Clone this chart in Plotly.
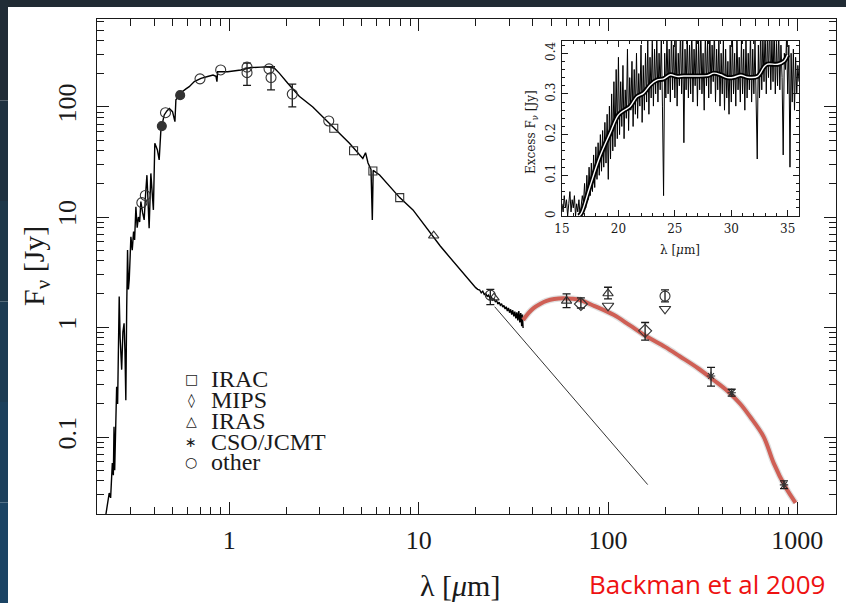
import numpy as np
import plotly.graph_objects as go

W, H = 846, 603

# ---------------- data ----------------
# observed / model photospheric spectrum (wavelength in micron, flux in Jy)
spec_lam = [0.223, 0.228, 0.232, 0.236, 0.241, 0.244, 0.246, 0.248, 0.251, 0.254,
            0.257, 0.262, 0.265, 0.270, 0.274, 0.278, 0.281, 0.284, 0.287, 0.290,
            0.293, 0.296, 0.299, 0.302, 0.307, 0.312, 0.316, 0.321, 0.326, 0.331,
            0.336, 0.341, 0.348, 0.355, 0.361, 0.367, 0.372, 0.377, 0.385, 0.391,
            0.397, 0.404, 0.410, 0.417, 0.421, 0.426, 0.435, 0.444, 0.453, 0.468,
            0.482, 0.501, 0.510, 0.516, 0.522, 0.540, 0.566, 0.590, 0.614, 0.653,
            0.708, 0.768, 0.820, 0.850, 0.860, 0.867, 0.980, 1.15, 1.30, 1.47,
            1.60, 1.73, 1.84, 2.03, 2.20, 2.34, 2.76, 3.12, 3.82, 4.31,
            5.07, 5.24, 5.40, 5.60, 5.69, 5.75, 6.22, 7.00, 7.94, 9.33,
            12.4, 13.0, 14.0, 15.0, 16.0, 17.0, 18.0, 19.0, 20.0, 20.5,
            21.0, 21.4, 21.8, 22.2, 22.6, 23.0, 23.4, 23.8, 24.2, 24.6,
            25.0, 25.4, 25.8, 26.2, 26.6, 27.0, 27.4, 27.8, 28.2, 28.6,
            29.0, 29.4, 29.8, 30.2, 30.6, 31.0, 31.4, 31.8, 32.2, 32.6,
            33.0, 33.4, 33.8, 34.2, 34.6, 35.0, 35.3, 35.6]
spec_F = [0.020, 0.025, 0.031, 0.028, 0.058, 0.045, 0.124, 0.050, 0.110, 0.287,
          0.200, 1.89, 0.80, 0.41, 0.90, 1.08, 0.60, 0.216, 1.50, 5.0,
          2.2, 2.7, 4.2, 6.6, 5.0, 7.36, 6.2, 12.4, 8.0, 10.0,
          9.0, 13.8, 11.0, 9.4, 16.0, 24.0, 14.0, 7.9, 24.9, 18.0,
          11.6, 46.8, 44.0, 40.6, 37.0, 33.0, 61.8, 72.0, 84.6, 92.0,
          97.0, 90.6, 80.0, 73.5, 116, 125, 138, 146, 153, 170,
          182, 189, 195, 190, 170, 209, 209, 217, 228, 230,
          232, 225, 202, 165, 140, 125, 100, 81.6, 57.7, 46.8,
          34.1, 38.4, 31.0, 27.0, 9.4, 26.5, 24.1, 19.0, 15.0, 11.6,
          5.96, 5.45, 4.68, 4.07, 3.57, 3.11, 2.80, 2.50, 2.28, 2.20,
          2.17, 2.05, 2.12, 1.98, 2.02, 1.90, 1.95, 1.83, 1.88, 1.76,
          1.80, 1.70, 1.74, 1.62, 1.68, 1.58, 1.63, 1.52, 1.57, 1.46,
          1.53, 1.40, 1.49, 1.35, 1.45, 1.30, 1.42, 1.25, 1.38, 1.20,
          1.36, 1.15, 1.40, 1.10, 1.34, 1.02, 1.30, 0.98]

# Rayleigh-Jeans photosphere extension
rj_lam = [25.2, 162.0]
rj_F = [1.53, 0.037]

# dust disk model (red curve)
model_lam = [35.6, 38, 40.3, 44, 47.4, 52, 58, 64, 71, 85, 107, 130, 160, 200,
             240, 300, 361, 430, 500, 560, 663, 750, 864, 978]
model_F = [1.16, 1.34, 1.48, 1.63, 1.73, 1.80, 1.83, 1.81, 1.76, 1.55, 1.29, 1.04,
           0.82, 0.66, 0.54, 0.42, 0.33, 0.26, 0.20, 0.155, 0.101, 0.058, 0.0353, 0.0253]

# photometry
other_lam = [0.345, 0.36, 0.46, 0.70, 0.90, 1.24, 1.24, 1.62, 1.66, 2.15, 3.35, 23.9, 200]
other_F = [13.5, 15.7, 88.7, 180, 217, 230, 205, 222, 185, 131, 74.6, 1.95, 1.91]
filled_lam = [0.44, 0.55]
filled_F = [67, 128]
irac_lam = [3.56, 4.53, 5.73, 7.94]
irac_F = [64, 40, 26.2, 15]
mips_lam = [71.9, 157]
mips_F = [1.62, 0.925]
iras_lam = [12.0, 25.0, 60.4, 100]
iras_F = [6.76, 1.85, 1.73, 2.02]
cso_lam = [350, 450, 850]
cso_F = [0.359, 0.253, 0.0368]
ulim_lam = [100, 200]
ulim_F = [1.56, 1.46]

# error bars (value, upper end, lower end)
eb_lam = [1.24, 1.66, 2.15, 23.9, 60.4, 71.9, 100, 157, 200, 350, 450, 850]
eb_F = [205, 185, 131, 1.95, 1.73, 1.62, 2.02, 0.925, 1.91, 0.359, 0.253, 0.0368]
eb_hi = [250, 232, 161, 2.2, 2.0, 1.84, 2.3, 1.1, 2.18, 0.43, 0.272, 0.040]
eb_lo = [157, 143, 100, 1.6, 1.5, 1.49, 1.8, 0.76, 1.69, 0.29, 0.236, 0.034]

# inset: excess spectrum 15-36 micron (0.1 micron sampling)
inset_lam = np.round(np.arange(150, 361) / 10.0, 1)
inset_F = [0.03, 0.01, 0.05, 0.02, 0.04, 0.00, 0.03, 0.06, 0.01, 0.04,
           0.02, 0.05, 0.00, 0.03, 0.01, 0.04, 0.00, 0.02, 0.05, 0.03,
           0.08, 0.02, 0.10, 0.04, 0.12, 0.05, 0.13, 0.06, 0.15, 0.07,
           0.17, 0.09, 0.18, 0.10, 0.20, 0.11, 0.21, 0.12, 0.23, 0.13,
           0.25, 0.09, 0.27, 0.14, 0.30, 0.16, 0.33, 0.17, 0.36, 0.19,
           0.39, 0.20, 0.33, 0.22, 0.37, 0.19, 0.31, 0.24, 0.41, 0.21,
           0.34, 0.26, 0.38, 0.22, 0.36, 0.25, 0.40, 0.24, 0.35, 0.27,
           0.42, 0.23, 0.37, 0.26, 0.40, 0.28, 0.43, 0.25, 0.39, 0.29,
           0.43, 0.27, 0.41, 0.30, 0.44, 0.28, 0.40, 0.31, 0.44, 0.27,
           0.05, 0.40, 0.29, 0.45, 0.30, 0.41, 0.28, 0.46, 0.31, 0.42,
           0.29, 0.44, 0.27, 0.40, 0.32, 0.46, 0.30, 0.43, 0.18, 0.41,
           0.31, 0.45, 0.29, 0.42, 0.30, 0.47, 0.28, 0.41, 0.32, 0.44,
           0.27, 0.43, 0.31, 0.46, 0.30, 0.40, 0.26, 0.45, 0.32, 0.43,
           0.29, 0.47, 0.30, 0.42, 0.33, 0.46, 0.28, 0.41, 0.31, 0.44,
           0.27, 0.40, 0.30, 0.43, 0.26, 0.41, 0.29, 0.38, 0.25, 0.42,
           0.28, 0.44, 0.30, 0.40, 0.27, 0.45, 0.31, 0.39, 0.28, 0.43,
           0.30, 0.41, 0.26, 0.44, 0.29, 0.40, 0.31, 0.45, 0.28, 0.41,
           0.30, 0.43, 0.27, 0.14, 0.42, 0.29, 0.46, 0.31, 0.44, 0.33,
           0.47, 0.30, 0.45, 0.34, 0.48, 0.31, 0.44, 0.33, 0.47, 0.30,
           0.43, 0.32, 0.46, 0.31, 0.42, 0.34, 0.15, 0.40, 0.36, 0.44,
           0.30, 0.42, 0.12, 0.40, 0.28, 0.41, 0.26, 0.39, 0.30, 0.37,
           0.33]
smooth_lam = [16.5, 16.72, 17.47, 18.36, 19.25, 19.99, 20.59, 21.03, 21.63, 22.22,
              22.82, 23.41, 24.00, 24.60, 25.19, 25.79, 26.68, 27.87, 28.46, 29.06,
              29.65, 30.25, 30.84, 31.43, 32.33, 32.92, 33.22, 34.11, 34.70, 35.0]
smooth_F = [0.0, 0.007, 0.072, 0.146, 0.203, 0.248, 0.261, 0.269, 0.293, 0.302,
            0.322, 0.334, 0.337, 0.347, 0.343, 0.344, 0.344, 0.345, 0.351, 0.347,
            0.340, 0.341, 0.346, 0.341, 0.343, 0.367, 0.373, 0.373, 0.381, 0.396]

legend_labels = ["IRAC", "MIPS", "IRAS", "CSO/JCMT", "other"]
legend_symbols = ["\u25A1", "\u25CA", "\u25B3", "\u2217", "\u25CB"]

x_tickvals = [1, 10, 100, 1000]
x_ticktext = ["1", "10", "100", "1000"]
y_tickvals = [0.1, 1, 10, 100]
y_ticktext = ["0.1", "1", "10", "100"]

assert len(spec_lam) == len(spec_F)
assert len(inset_lam) == len(inset_F)
assert len(smooth_lam) == len(smooth_F)
assert len(model_lam) == len(model_F)

# ---------------- figure ----------------
def px(x):
    return x / W


def py(y):
    return 1 - y / H


SERIF = "Liberation Serif, Times New Roman, serif"
INK = "#1a1a1a"

fig = go.Figure()

fig.add_trace(go.Scatter(x=spec_lam, y=spec_F, mode="lines",
                         line=dict(color="black", width=1.4), hoverinfo="skip"))
fig.add_trace(go.Scatter(x=rj_lam, y=rj_F, mode="lines",
                         line=dict(color="#333333", width=1), hoverinfo="skip"))
fig.add_trace(go.Scatter(x=model_lam, y=model_F, mode="lines",
                         line=dict(color="rgba(110,110,110,0.22)", width=6.5, shape="spline"),
                         hoverinfo="skip"))
fig.add_trace(go.Scatter(x=model_lam, y=model_F, mode="lines",
                         line=dict(color="#cf5f55", width=4, shape="spline"), hoverinfo="skip"))

eb_plus = [h - f for h, f in zip(eb_hi, eb_F)]
eb_minus = [f - l for f, l in zip(eb_F, eb_lo)]
fig.add_trace(go.Scatter(x=eb_lam, y=eb_F, mode="markers",
                         marker=dict(size=1, color="rgba(0,0,0,0)"),
                         error_y=dict(type="data", symmetric=False, array=eb_plus,
                                      arrayminus=eb_minus, color=INK, thickness=1.3, width=4)))


def pts(xs, ys, symbol, size):
    fig.add_trace(go.Scatter(
        x=xs, y=ys, mode="markers",
        marker=dict(symbol=symbol, size=size, color="#333333",
                    line=dict(color="#333333", width=1.1))))


pts(other_lam, other_F, "circle-open", 10)
pts(filled_lam, filled_F, "circle", 9)
pts(irac_lam, irac_F, "square-open", 8)
pts(mips_lam, mips_F, "diamond-open", 10)
pts(iras_lam, iras_F, "triangle-up-open", 9)
pts(cso_lam, cso_F, "asterisk-open", 7)
pts(ulim_lam, ulim_F, "triangle-down-open", 10)

# inset traces
fig.add_trace(go.Scatter(x=inset_lam, y=inset_F, mode="lines", xaxis="x2", yaxis="y2",
                         line=dict(color="black", width=1), hoverinfo="skip"))
fig.add_trace(go.Scatter(x=smooth_lam, y=smooth_F, mode="lines", xaxis="x2", yaxis="y2",
                         line=dict(color="black", width=5, shape="spline"), hoverinfo="skip"))
fig.add_trace(go.Scatter(x=smooth_lam, y=smooth_F, mode="lines", xaxis="x2", yaxis="y2",
                         line=dict(color="white", width=1.4, shape="spline"), hoverinfo="skip"))

minor_log = [m * 10.0 ** e for e in range(-2, 4) for m in range(2, 10)]

axis_common = dict(showline=True, linecolor=INK, linewidth=1.3, mirror="allticks",
                   ticks="inside", ticklen=12, tickwidth=1.2, tickcolor=INK,
                   showgrid=False, zeroline=False, automargin=False,
                   tickfont=dict(family=SERIF, size=26, color=INK),
                   minor=dict(tickvals=minor_log, ticks="inside", ticklen=7,
                              tickwidth=1, tickcolor=INK, showgrid=False))

fig.update_layout(
    width=W, height=H,
    margin=dict(l=0, r=0, t=0, b=0, autoexpand=False),
    paper_bgcolor="white", plot_bgcolor="white",
    showlegend=False,
    xaxis=dict(type="log", range=[np.log10(0.2), np.log10(1600)],
               domain=[px(97), px(836)], anchor="y",
               tickvals=x_tickvals, ticktext=x_ticktext, ticklabelstandoff=3,
               **axis_common),
    yaxis=dict(type="log", range=[np.log10(0.02), np.log10(630)],
               domain=[py(514), py(19)], anchor="x",
               tickvals=y_tickvals, ticktext=y_ticktext, tickangle=-90,
               ticklabelstandoff=9, **axis_common),
    xaxis2=dict(range=[15, 36], domain=[px(562), px(799)], anchor="y2",
                showline=True, linecolor=INK, linewidth=1.2, mirror="allticks",
                ticks="inside", ticklen=6, tickwidth=1, tickcolor=INK,
                tickvals=[15, 20, 25, 30, 35], showgrid=False, zeroline=False,
                automargin=False,
                tickfont=dict(family="DejaVu Serif", size=12, color=INK),
                ticklabelstandoff=1,
                minor=dict(dtick=1, ticks="inside", ticklen=3, tickcolor=INK, showgrid=False)),
    yaxis2=dict(range=[0, 0.43], domain=[py(216), py(41)], anchor="x2",
                showline=True, linecolor=INK, linewidth=1.2, mirror="allticks",
                ticks="inside", ticklen=6, tickwidth=1, tickcolor=INK,
                tickvals=[0, 0.1, 0.2, 0.3, 0.4], tickangle=-90,
                showgrid=False, zeroline=False, automargin=False,
                tickfont=dict(family="DejaVu Serif", size=12, color=INK),
                ticklabelstandoff=1,
                minor=dict(dtick=0.02, ticks="inside", ticklen=3, tickcolor=INK, showgrid=False)),
)

ann = []
# axis titles
ann.append(dict(text="F<sub>\u03bd</sub> [Jy]", x=px(36), y=py(266), textangle=-90,
                font=dict(family=SERIF, size=30, color=INK)))
ann.append(dict(text="\u03bb [<i>\u03bc</i>m]", x=px(460), y=py(585),
                font=dict(family=SERIF, size=30, color=INK)))
ann.append(dict(text="Backman et al 2009", x=px(707), y=py(584),
                font=dict(family="Open Sans", size=26, color="#ee1111")))
# inset titles
ann.append(dict(text="Excess F<sub>\u03bd</sub> [Jy]", x=px(532), y=py(132), textangle=-90,
                font=dict(family="DejaVu Serif", size=12, color=INK)))
ann.append(dict(text="\u03bb [<i>\u03bc</i>m]", x=px(680), y=py(250),
                font=dict(family="DejaVu Serif", size=12, color=INK)))
# legend
legend_rows = [379, 400, 421, 442, 462]
for sym, lab, yy in zip(legend_symbols, legend_labels, legend_rows):
    ann.append(dict(text=sym, x=px(191), y=py(yy), xanchor="center",
                    font=dict(family="DejaVu Sans", size=14, color=INK)))
    ann.append(dict(text=lab, x=px(210), y=py(yy), xanchor="left",
                    font=dict(family=SERIF, size=24, color=INK)))

for a in ann:
    a.setdefault("xanchor", "center")
    a.update(xref="paper", yref="paper", yanchor="middle", showarrow=False, borderpad=0)
fig.update_layout(annotations=ann)

# slide border (dark frame on top and left)
shapes = [dict(type="rect", xref="paper", yref="paper", x0=0, x1=1, y0=py(7), y1=1,
               fillcolor="#212b34", line=dict(width=0))]
left_cols = ["#212c36", "#1f3140", "#1e3749", "#1d3c53", "#1c405c", "#1b4464"]
n = len(left_cols)
for i, c in enumerate(left_cols):
    shapes.append(dict(type="rect", xref="paper", yref="paper", x0=0, x1=px(8),
                       y0=1 - (i + 1) / n, y1=1 - i / n, fillcolor=c, line=dict(width=0)))
fig.update_layout(shapes=shapes)

fig.write_html("out.html")
